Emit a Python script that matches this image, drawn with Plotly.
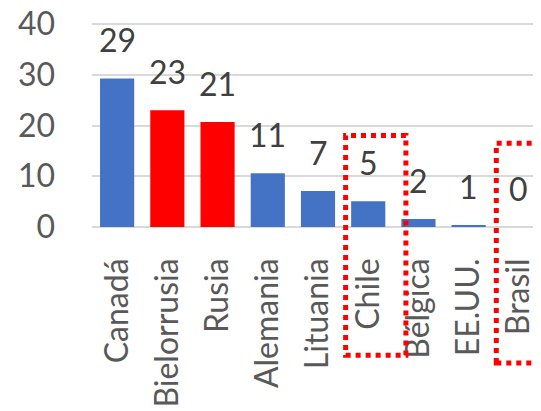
import plotly.graph_objects as go

# datos
paises = ["Canadá", "Bielorrusia", "Rusia", "Alemania", "Lituania",
          "Chile", "Bélgica", "EE.UU.", "Brasil"]
valores = [29.3, 23.0, 20.7, 10.6, 7.1, 5.1, 1.6, 0.3, 0.0]
etiquetas = ["29", "23", "21", "11", "7", "5", "2", "1", "0"]
colores = ["#4472C4", "#FF0000", "#FF0000", "#4472C4", "#4472C4",
           "#4472C4", "#4472C4", "#4472C4", "#4472C4"]
y_ticks = [0, 10, 20, 30, 40]

# categorias resaltadas con recuadro punteado
resaltados = ["Chile", "Brasil"]

FONT = "Lato"
GRID = "#D9D9D9"
Y_MAX = 42  # algo por encima de 40 para que se vea la linea superior

fig = go.Figure()
fig.add_trace(go.Bar(
    x=list(range(len(paises))),
    y=valores,
    marker=dict(color=colores, line=dict(width=0)),
    hoverinfo="skip",
))

for i, (v, t) in enumerate(zip(valores, etiquetas)):
    fig.add_annotation(
        x=i, y=v, text=t, showarrow=False,
        yanchor="bottom", yshift=17,
        font=dict(family=FONT, size=32, color="#404040"),
    )

# linea de cuadricula superior
fig.add_shape(
    type="line", xref="x domain", yref="y",
    x0=0, x1=1, y0=y_ticks[-1], y1=y_ticks[-1],
    line=dict(color=GRID, width=1.5),
    layer="above",
)

# recuadros (alturas en fraccion del area de trazado)
cajas = {"Chile": (0.43, -0.602), "Brasil": (0.393, -0.638)}
for nombre in resaltados:
    idx = paises.index(nombre)
    y1, y0 = cajas[nombre]
    fig.add_shape(
        type="rect", xref="x", yref="paper",
        x0=idx - 0.45, x1=idx + 0.75 if nombre != "Brasil" else idx + 1.2,
        y0=y0, y1=y1,
        line=dict(color="#FF0000", width=5, dash="dot"),
        layer="above",
    )

fig.update_xaxes(
    tickmode="array",
    tickvals=list(range(len(paises))),
    ticktext=paises,
    tickangle=-90,
    range=[-0.5, 8.44],
    showgrid=False,
    showline=False,
    zeroline=False,
    ticks="",
    automargin=False,
    ticklabelstandoff=24,
    tickfont=dict(family=FONT, size=32, color="#595959"),
)
fig.update_yaxes(
    range=[0, Y_MAX],
    tickvals=y_ticks,
    showgrid=True,
    gridcolor=GRID,
    gridwidth=1.5,
    zeroline=True,
    zerolinecolor=GRID,
    zerolinewidth=1.5,
    showline=False,
    ticks="",
    automargin=False,
    ticklabeloverflow="allow",
    ticklabelstandoff=36,
    tickfont=dict(family=FONT, size=32, color="#595959"),
)
# la pagina deja 8 px de margen al cuerpo: se descuentan aqui
fig.update_layout(
    width=533,
    height=403,
    margin=dict(l=84, r=0, t=5.9, b=184.2),
    bargap=0.32,
    plot_bgcolor="white",
    paper_bgcolor="white",
    showlegend=False,
)

fig.write_html("out.html")
